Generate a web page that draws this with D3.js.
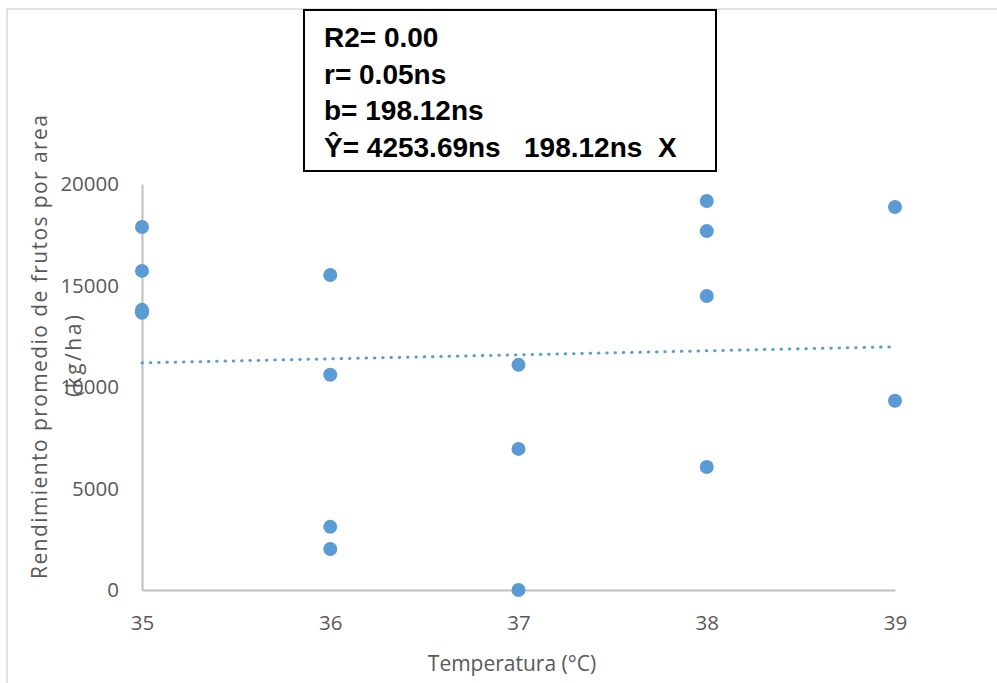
<!DOCTYPE html>
<html><head><meta charset="utf-8">
<script src="https://cdn.jsdelivr.net/npm/d3@7"></script>
<style>body{margin:0;background:#fff}svg{display:block}</style>
</head><body>
<script>
const temps = [35,35,35,35,35, 36,36,36,36, 37,37,37, 38,38,38,38, 39,39];
const yields = [17880,15720,13800,13660, 13700, 15520,10600,3110,2020, 11090,6950,0, 19160,17680,14480,6060, 18870,9320];
const xTicks = [35,36,37,38,39];
const yTicks = [0,5000,10000,15000,20000];
const intercept = 4253.69, slope = 198.12;
const statLines = ["R2= 0.00","r= 0.05ns","b= 198.12ns","Ŷ= 4253.69ns   198.12ns  X"];

const W=997,H=683;
const svg=d3.select("body").append("svg").attr("width",W).attr("height",H);
svg.append("rect").attr("x",7).attr("y",9).attr("width",W).attr("height",H).attr("fill","#fff").attr("stroke","#d9d9d9").attr("stroke-width",1.5);

const x=d3.scaleLinear().domain([35,39]).range([142,895]);
const y=d3.scaleLinear().domain([0,20000]).range([590,184]);

const font="'Open Sans', sans-serif";
// axes
const yAxis=svg.append("g").attr("transform","translate(142,0)")
  .call(d3.axisLeft(y).tickValues(yTicks).tickSize(0).tickPadding(23).tickFormat(d3.format("d")));
const xAxis=svg.append("g").attr("transform","translate(0,590)")
  .call(d3.axisBottom(x).tickValues(xTicks).tickSize(0).tickPadding(25).tickFormat(d3.format("d")));
[yAxis,xAxis].forEach(g=>{
  g.select(".domain").attr("stroke","#bfbfbf").attr("stroke-width",2);
  g.selectAll("text").attr("fill","#595959").style("font-family",font).style("font-size","20.5px");
});

// trendline
svg.append("line")
  .attr("x1",x(35)).attr("y1",y(intercept+slope*35))
  .attr("x2",x(39)).attr("y2",y(intercept+slope*39))
  .attr("stroke","#5b9bd5").attr("stroke-width",3).attr("stroke-linecap","round")
  .attr("stroke-dasharray","0.5 7.8");

// points
svg.append("g").selectAll("circle").data(temps.map((t,i)=>[t,yields[i]])).join("circle")
  .attr("cx",d=>x(d[0])).attr("cy",d=>y(d[1])).attr("r",7).attr("fill","#5b9bd5");

// axis titles
svg.append("text").attr("x",512).attr("y",671).attr("text-anchor","middle")
  .attr("fill","#595959").style("font-family",font).style("font-size","21px").text("Temperatura (°C)");
svg.append("text").attr("transform","translate(47,347) rotate(-90)").attr("text-anchor","middle")
  .attr("fill","#595959").style("font-family",font).style("font-size","21px")
  .attr("textLength",464).attr("lengthAdjust","spacing").text("Rendimiento promedio de frutos por area");
svg.append("text").attr("transform","translate(81,356) rotate(-90)").attr("text-anchor","middle")
  .attr("fill","#595959").style("font-family",font).style("font-size","21px")
  .attr("textLength",82).attr("lengthAdjust","spacing").text("(kg/ha)");

// stats box
svg.append("rect").attr("x",304).attr("y",10).attr("width",412).attr("height",161)
  .attr("fill","#fff").attr("stroke","#000").attr("stroke-width",2);
svg.append("g").selectAll("text").data(statLines).join("text")
  .attr("x",324).attr("y",(d,i)=>47+i*36.6)
  .attr("fill","#000").style("font-family","'Liberation Sans', Arial, sans-serif")
  .style("font-size","28px").style("font-weight","bold").style("white-space","pre")
  .attr("xml:space","preserve").text(d=>d);
</script>
</body></html>
